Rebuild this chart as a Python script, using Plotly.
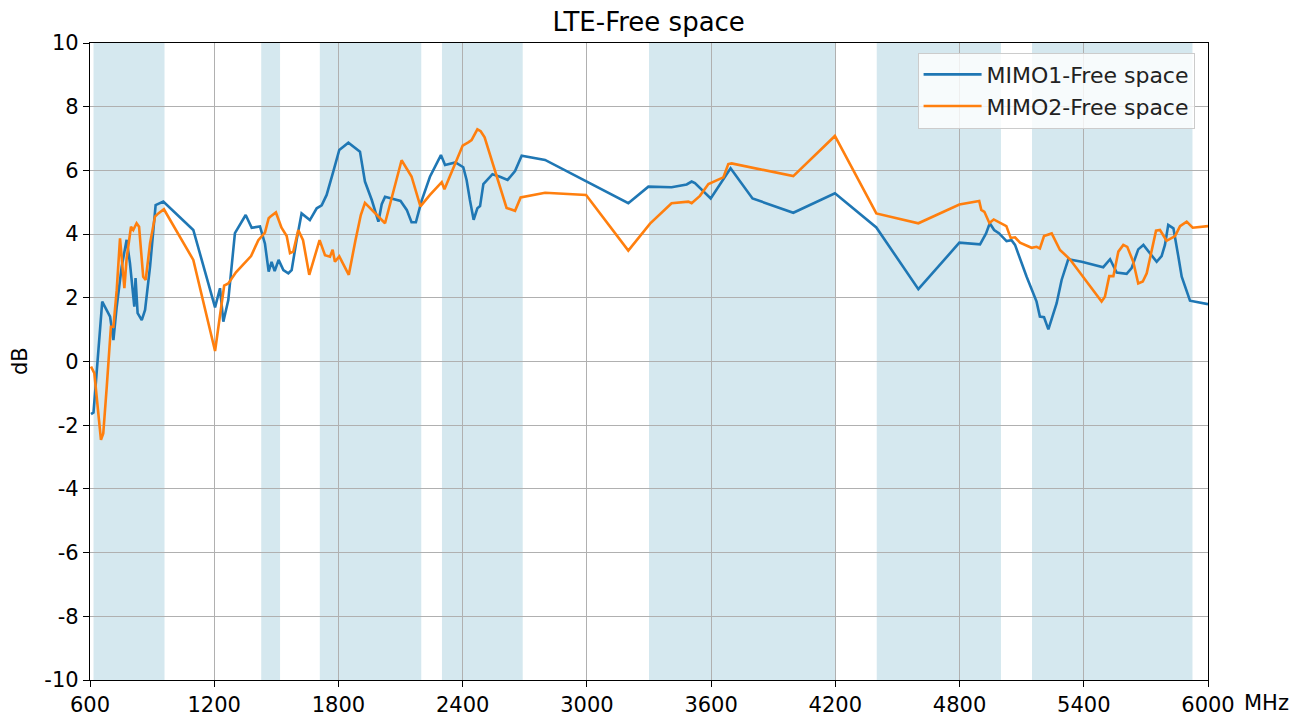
import plotly.graph_objects as go

# ---- data ----
mimo1_freq = [605, 617, 659, 697, 713, 729, 753, 777, 793, 814, 820, 830, 850, 866, 890, 917, 954,
              1099, 1204, 1228, 1244, 1268, 1300, 1352, 1381, 1421, 1445, 1463, 1477, 1492, 1511,
              1534, 1558, 1574, 1598, 1622, 1662, 1695, 1719, 1743, 1775, 1804, 1848, 1904, 1928,
              1961, 1993, 2009, 2025, 2100, 2130, 2153, 2174, 2202, 2242, 2295, 2315, 2365, 2403,
              2419, 2435, 2453, 2471, 2484, 2500, 2544, 2580, 2617, 2653, 2685, 2798, 3200, 3297,
              3409, 3482, 3506, 3522, 3554, 3598, 3694, 3800, 3997, 4198, 4398, 4601, 4799, 4899,
              4928, 4946, 4967, 4990, 5027, 5051, 5068, 5124, 5172, 5188, 5208, 5229, 5269, 5293,
              5325, 5390, 5494, 5527, 5559, 5607, 5631, 5663, 5688, 5752, 5776, 5792, 5808, 5833,
              5857, 5873, 5913, 6000]
mimo1_db = [-1.65, -1.60, 1.88, 1.41, 0.67, 1.72, 2.98, 3.82, 3.09, 1.72, 2.62, 1.52, 1.30, 1.62, 2.98, 4.91, 5.02,
            4.13, 1.70, 2.30, 1.25, 1.93, 4.03, 4.60, 4.20, 4.24, 3.70, 2.82, 3.13, 2.84, 3.19,
            2.87, 2.77, 2.87, 3.81, 4.65, 4.44, 4.81, 4.90, 5.23, 5.96, 6.64, 6.87, 6.59, 5.65,
            5.07, 4.39, 4.94, 5.17, 5.04, 4.76, 4.37, 4.37, 5.05, 5.80, 6.48, 6.17, 6.25, 6.10,
            5.70, 5.07, 4.45, 4.81, 4.88, 5.57, 5.88, 5.80, 5.70, 5.98, 6.46, 6.33, 4.97, 5.49,
            5.47, 5.56, 5.65, 5.60, 5.41, 5.12, 6.07, 5.12, 4.67, 5.28, 4.21, 2.27, 3.73, 3.68,
            4.02, 4.34, 4.13, 4.03, 3.78, 3.81, 3.66, 2.66, 1.88, 1.41, 1.39, 1.01, 1.83, 2.56,
            3.21, 3.13, 2.96, 3.21, 2.79, 2.75, 2.93, 3.52, 3.66, 3.13, 3.31, 3.66, 4.29, 4.18,
            3.29, 2.66, 1.91, 1.80]

mimo2_freq = [605, 621, 653, 664, 681, 701, 713, 729, 745, 766, 777, 798, 809, 825, 837, 857, 869, 890,
              914, 930, 957, 1099, 1204, 1248, 1268, 1305, 1378, 1413, 1445, 1463, 1472, 1498, 1525,
              1550, 1566, 1582, 1606, 1629, 1659, 1709, 1735, 1759, 1772, 1783, 1804, 1850, 1882,
              1908, 1928, 1985, 2025, 2105, 2153, 2196, 2242, 2299, 2312, 2358, 2400, 2427, 2443,
              2471, 2487, 2506, 2556, 2612, 2653, 2680, 2798, 2996, 3200, 3305, 3409, 3490, 3506,
              3546, 3587, 3659, 3683, 3699, 3997, 4198, 4398, 4601, 4799, 4895, 4905, 4920, 4944,
              4965, 5026, 5047, 5068, 5092, 5148, 5172, 5188, 5208, 5245, 5285, 5333, 5486, 5502,
              5523, 5543, 5567, 5591, 5610, 5639, 5663, 5685, 5704, 5749, 5768, 5800, 5841, 5865,
              5897, 5926, 6000]
mimo2_db = [-0.16, -0.37, -2.46, -2.26, -0.79, 1.09, 1.09, 2.24, 3.87, 2.30, 3.24, 4.23, 4.13, 4.34, 4.23, 2.66, 2.56, 3.71,
            4.55, 4.65, 4.78, 3.19, 0.33, 2.38, 2.45, 2.80, 3.31, 3.81, 4.05, 4.50, 4.55, 4.68, 4.20,
            3.94, 3.40, 3.45, 4.13, 3.81, 2.72, 3.81, 3.34, 3.29, 3.51, 3.13, 3.30, 2.72, 3.80,
            4.60, 4.98, 4.62, 4.34, 6.32, 5.81, 4.87, 5.23, 5.63, 5.41, 6.12, 6.78, 6.88, 6.95,
            7.29, 7.23, 7.04, 5.96, 4.82, 4.73, 5.15, 5.30, 5.23, 3.48, 4.33, 4.97, 5.02, 4.97,
            5.20, 5.57, 5.78, 6.20, 6.22, 5.82, 7.08, 4.65, 4.34, 4.93, 5.04, 4.76, 4.70, 4.35,
            4.46, 4.25, 3.88, 3.90, 3.73, 3.57, 3.60, 3.55, 3.94, 4.02, 3.50, 3.21, 1.88, 2.03,
            2.68, 2.68, 3.45, 3.66, 3.60, 3.13, 2.45, 2.51, 2.77, 4.11, 4.13, 3.79, 3.94, 4.25,
            4.39, 4.20, 4.25]

band_start = [617, 1427, 1710, 2300, 3300, 4400, 5150]
band_end = [960, 1518, 2200, 2690, 4200, 5000, 5925]

x_ticks = [600, 1200, 1800, 2400, 3000, 3600, 4200, 4800, 5400, 6000]
y_ticks = [-10, -8, -6, -4, -2, 0, 2, 4, 6, 8, 10]

FONT = "DejaVu Sans"

fig = go.Figure()
fig.add_trace(go.Scatter(x=mimo1_freq, y=mimo1_db, mode="lines", name="MIMO1-Free space",
                         line=dict(color="#1f77b4", width=2.6)))
fig.add_trace(go.Scatter(x=mimo2_freq, y=mimo2_db, mode="lines", name="MIMO2-Free space",
                         line=dict(color="#ff7f0e", width=2.6)))

for s, e in zip(band_start, band_end):
    fig.add_shape(type="rect", xref="x", yref="paper", x0=s, x1=e, y0=0, y1=1,
                  fillcolor="#d5e8ef", line=dict(width=0), layer="below")

axis_common = dict(showline=True, mirror=True, linecolor="black", linewidth=1.3,
                   ticks="outside", ticklen=6, tickwidth=1.3, tickcolor="black",
                   showgrid=True, gridcolor="#b0b0b0", gridwidth=1.3, zeroline=False,
                   automargin=False,
                   tickfont=dict(family=FONT, size=21, color="black"))

# page body has an 8px margin, so the figure is drawn 8px smaller and offset
fig.update_layout(
    width=1297, height=710,
    margin=dict(l=82, r=97, t=35, b=38),
    paper_bgcolor="white", plot_bgcolor="white",
    font=dict(family=FONT, color="black"),
    title=dict(text="LTE-Free space", x=0.494, xanchor="center",
               y=0.980, yanchor="middle",
               font=dict(family=FONT, size=26, color="black")),
    xaxis=dict(range=[600, 6000], tickvals=x_ticks, ticktext=[str(v) for v in x_ticks], **axis_common),
    yaxis=dict(range=[-10, 10], tickvals=y_ticks, ticktext=[str(v) for v in y_ticks], **axis_common),
    legend=dict(x=0.988, xanchor="right", y=0.985, yanchor="top", itemwidth=58,
                bgcolor="rgba(255,255,255,0.8)", bordercolor="#cccccc", borderwidth=1,
                font=dict(family=FONT, size=22, color="#222222")),
    showlegend=True,
)

fig.add_annotation(text="dB", xref="paper", yref="paper", x=-0.063, y=0.5, textangle=-90,
                   showarrow=False, xanchor="center", yanchor="middle",
                   font=dict(family=FONT, size=21, color="black"))
fig.add_annotation(text="MHz", xref="paper", yref="paper", x=1.052, y=-0.036,
                   showarrow=False, xanchor="center", yanchor="middle",
                   font=dict(family=FONT, size=21, color="black"))

fig.write_html("out.html")
